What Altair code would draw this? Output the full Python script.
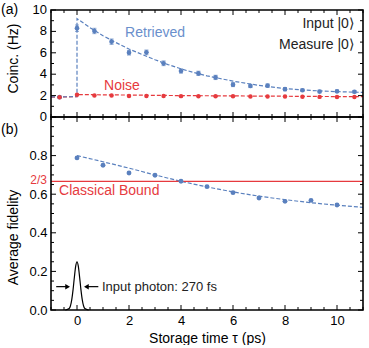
import altair as alt
import pandas as pd

# ---------------- data ----------------
ret_t = [-0.67, 0, 0.67, 1.33, 2, 2.67, 3.33, 4, 4.67, 5.33, 6, 6.67, 7.33, 8, 8.67, 9.33, 10, 10.67]
ret_v = [1.85, 8.3, 8.04, 7.04, 6.01, 6.04, 5.02, 4.3, 4.08, 3.7, 3.02, 2.9, 2.93, 2.6, 2.5, 2.38, 2.4, 2.36]
ret_e = [0.08, 0.3, 0.25, 0.25, 0.22, 0.22, 0.22, 0.2, 0.2, 0.2, 0.18, 0.15, 0.15, 0.15, 0.12, 0.12, 0.12, 0.12]

noise_t = [-0.67, 0, 0.67, 1.33, 2, 2.67, 3.33, 4, 4.67, 5.33, 6, 6.67, 7.33, 8, 8.67, 9.33, 10, 10.67]
noise_v = [1.85, 2.08, 2.0, 2.0, 1.97, 1.97, 1.97, 1.95, 1.93, 1.93, 1.93, 1.92, 1.92, 1.92, 1.9, 1.88, 1.87, 1.86]

retfit_t = [-1, 0, 0, 0.5, 1, 1.5, 2, 2.5, 3, 3.5, 4, 4.5, 5, 5.5, 6, 7, 8, 9, 10, 11]
retfit_v = [1.88, 1.9, 9.2, 8.35, 7.6, 6.95, 6.35, 5.85, 5.35, 4.9, 4.5, 4.15, 3.85, 3.6, 3.35, 2.95, 2.65, 2.48, 2.37, 2.3]

noisefit_t = [-1, 0, 0, 2, 4, 6, 8, 10, 11]
noisefit_v = [1.85, 1.9, 2.1, 2.05, 2.0, 1.97, 1.94, 1.91, 1.9]

fid_t = [0, 1, 2, 3, 4, 5, 6, 7, 8, 9, 10]
fid_v = [0.788, 0.75, 0.71, 0.698, 0.667, 0.639, 0.608, 0.58, 0.563, 0.568, 0.544]

fidfit_t = [0, 1, 2, 3, 4, 5, 6, 7, 8, 9, 10, 11]
fidfit_v = [0.80, 0.768, 0.735, 0.70, 0.667, 0.638, 0.612, 0.59, 0.572, 0.556, 0.543, 0.532]

pulse_t = [-0.45, -0.3, -0.2, -0.15, -0.1, -0.05, 0, 0.05, 0.1, 0.15, 0.2, 0.3, 0.45]
pulse_v = [0, 0.008, 0.055, 0.107, 0.171, 0.227, 0.25, 0.227, 0.171, 0.107, 0.055, 0.008, 0]

bound = 2 / 3

x_major = [0, 2, 4, 6, 8, 10]
x_minor = [-1, -0.5, 0.5, 1, 1.5, 2.5, 3, 3.5, 4.5, 5, 5.5, 6.5, 7, 7.5, 8.5, 9, 9.5, 10.5, 11]
ya_major = [0, 2, 4, 6, 8, 10]
ya_labels = ["0", "2", "4", "6", "8", "10"]
ya_minor = [1, 3, 5, 7, 9]
yb_major = [0, 0.2, 0.4, 0.6, 0.8, 1.0]
yb_minor = [0.05, 0.1, 0.15, 0.25, 0.3, 0.35, 0.45, 0.5, 0.55, 0.65, 0.7, 0.75, 0.85, 0.9, 0.95]

# ---------------- styling ----------------
FONT = "Liberation Sans"
BLUE = "#5a80be"
BLUE_T = "#6a8fcc"
RED = "#e63a3e"
W = 312
HA = 107
HB = 193
XS = alt.Scale(domain=[-1, 11], nice=False, zero=False)
YA = alt.Scale(domain=[0, 10], nice=False)
YB = alt.Scale(domain=[0, 1.0], nice=False)


def ticks(scale, H, axis_field, vals, length, hide_x):
    layers = []
    df = pd.DataFrame({"v": vals})
    if axis_field == "x":
        xenc = alt.X("v:Q", scale=scale, axis=None) if hide_x else alt.X("v:Q", scale=scale)
        layers.append(alt.Chart(df).mark_rule(color="black", strokeWidth=1).encode(
            x=xenc, y=alt.value(H), y2=alt.value(H - length)))
        layers.append(alt.Chart(df).mark_rule(color="black", strokeWidth=1).encode(
            x=xenc, y=alt.value(0), y2=alt.value(length)))
    else:
        layers.append(alt.Chart(df).mark_rule(color="black", strokeWidth=1).encode(
            y=alt.Y("v:Q", scale=scale), x=alt.value(0), x2=alt.value(length)))
        layers.append(alt.Chart(df).mark_rule(color="black", strokeWidth=1).encode(
            y=alt.Y("v:Q", scale=scale), x=alt.value(W), x2=alt.value(W - length)))
    return layers


def frame(H):
    return alt.Chart(pd.DataFrame({"a": [0]})).mark_rect(
        fill=None, stroke="black", strokeWidth=1.6, fillOpacity=0).encode(
        x=alt.value(0), x2=alt.value(W), y=alt.value(0), y2=alt.value(H))


# ---------------- panel (a) ----------------
ret_df = pd.DataFrame({"t": ret_t, "v": ret_v, "lo": [a - b for a, b in zip(ret_v, ret_e)],
                       "hi": [a + b for a, b in zip(ret_v, ret_e)]})
noise_df = pd.DataFrame({"t": noise_t, "v": noise_v})
retfit_df = pd.DataFrame({"t": retfit_t, "v": retfit_v, "i": range(len(retfit_t))})
noisefit_df = pd.DataFrame({"t": noisefit_t, "v": noisefit_v, "i": range(len(noisefit_t))})

ya_axis = alt.Axis(values=ya_major, grid=False, domain=False, ticks=False, labels=False,
                   title="Coinc. (Hz)", titleFont=FONT, titleFontSize=14, titleFontWeight="normal",
                   titleColor="black", titleX=-38, titleY=48, titleBaseline="middle", titleAngle=270,
                   titleAlign="center")

XA = alt.X("t:Q", scale=XS, axis=None)

a_layers = []
a_layers.append(alt.Chart(noisefit_df).mark_line(color=RED, strokeWidth=1.2, strokeDash=[4, 2]).encode(
    x=XA, y=alt.Y("v:Q", scale=YA, axis=ya_axis), order="i:Q"))
a_layers.append(alt.Chart(retfit_df).mark_line(color=BLUE, strokeWidth=1.2, strokeDash=[4, 2]).encode(
    x=XA, y=alt.Y("v:Q", scale=YA), order="i:Q"))
a_layers.append(alt.Chart(ret_df).mark_rule(color=BLUE, strokeWidth=1).encode(
    x=XA, y=alt.Y("lo:Q", scale=YA), y2="hi:Q"))
a_layers.append(alt.Chart(ret_df).mark_tick(color=BLUE, size=4, thickness=1, orient="horizontal").encode(
    x=XA, y=alt.Y("lo:Q", scale=YA)))
a_layers.append(alt.Chart(ret_df).mark_tick(color=BLUE, size=4, thickness=1, orient="horizontal").encode(
    x=XA, y=alt.Y("hi:Q", scale=YA)))
a_layers.append(alt.Chart(ret_df).mark_circle(color=BLUE, size=22, opacity=1).encode(
    x=XA, y=alt.Y("v:Q", scale=YA)))
a_layers.append(alt.Chart(noise_df).mark_circle(color=RED, size=20, opacity=1).encode(
    x=XA, y=alt.Y("v:Q", scale=YA)))


def text_a(xs, ys, ts, color, align="left", size=14):
    return alt.Chart(pd.DataFrame({"x": xs, "y": ys, "t": ts})).mark_text(
        align=align, baseline="middle", font=FONT, fontSize=size, color=color).encode(
        x=alt.X("x:Q", scale=XS, axis=None), y=alt.Y("y:Q", scale=YA), text="t:N")


a_layers.append(text_a([1.85], [7.85], ["Retrieved"], BLUE_T))
a_layers.append(text_a([1.04], [2.9], ["Noise"], RED))
a_layers.append(text_a([10.65, 10.65], [8.69, 6.76], ["Input |0\u27e9", "Measure |0\u27e9"], "#222222",
                       align="right"))
# y tick labels of panel (a)
a_layers.append(alt.Chart(pd.DataFrame({"y": ya_major, "t": ya_labels})).mark_text(
    align="right", baseline="middle", font=FONT, fontSize=13, color="black").encode(
    x=alt.value(-4), y=alt.Y("y:Q", scale=YA), text="t:N"))
a_layers.append(alt.Chart(pd.DataFrame({"t": ["(a)"]})).mark_text(
    align="left", baseline="middle", font=FONT, fontSize=14, color="black").encode(
    x=alt.value(-50), y=alt.value(0), text="t:N"))

a_layers += ticks(XS, HA, "x", x_major, 5, True)
a_layers += ticks(XS, HA, "x", x_minor, 3, True)
a_layers += ticks(YA, HA, "y", ya_major, 5, True)
a_layers += ticks(YA, HA, "y", ya_minor, 3, True)
a_layers.append(frame(HA))

top = alt.layer(*a_layers).properties(width=W, height=HA)

# ---------------- panel (b) ----------------
fid_df = pd.DataFrame({"t": fid_t, "v": fid_v})
fidfit_df = pd.DataFrame({"t": fidfit_t, "v": fidfit_v})
pulse_df = pd.DataFrame({"t": pulse_t, "v": pulse_v})

x_axis = alt.Axis(values=x_major, format="d", grid=False, domain=False, ticks=False,
                  labelOverlap=False, labelFlush=False,
                  labelFont=FONT, labelFontSize=13, labelPadding=4, labelColor="black",
                  title="Storage time \u03c4 (ps)", titleFont=FONT, titleFontSize=14,
                  titleFontWeight="normal", titleColor="black", titlePadding=4)
yb_axis = alt.Axis(values=[0, 0.2, 0.4, 0.6, 0.8], format=".1f", grid=False, domain=False, ticks=False,
                   labelOverlap=False, labelFlush=False,
                   labelFont=FONT, labelFontSize=13, labelPadding=4, labelColor="black",
                   title="Average fidelity", titleFont=FONT, titleFontSize=14, titleFontWeight="normal",
                   titleColor="black", titleX=-38, titleY=120, titleBaseline="middle", titleAngle=270,
                   titleAlign="center")

b_layers = []
b_layers.append(alt.Chart(fidfit_df).mark_line(color=BLUE, strokeWidth=1.2, strokeDash=[4, 2],
                                               interpolate="monotone").encode(
    x=alt.X("t:Q", scale=XS, axis=x_axis), y=alt.Y("v:Q", scale=YB, axis=yb_axis)))
b_layers.append(alt.Chart(pd.DataFrame({"v": [bound]})).mark_rule(color=RED, strokeWidth=1.2).encode(
    y=alt.Y("v:Q", scale=YB)))
b_layers.append(alt.Chart(fid_df).mark_circle(color=BLUE, size=24, opacity=1).encode(
    x=alt.X("t:Q", scale=XS), y=alt.Y("v:Q", scale=YB)))
b_layers.append(alt.Chart(pulse_df).mark_line(color="black", strokeWidth=1.2, interpolate="monotone").encode(
    x=alt.X("t:Q", scale=XS), y=alt.Y("v:Q", scale=YB)))

arrow_df = pd.DataFrame({"x": [-0.8, 0.82], "x2": [-0.34, 0.34], "y": [0.121, 0.121]})
b_layers.append(alt.Chart(arrow_df).mark_rule(color="black", strokeWidth=1.2).encode(
    x=alt.X("x:Q", scale=XS), x2="x2:Q", y=alt.Y("y:Q", scale=YB)))
head_df = pd.DataFrame({"x": [-0.36, 0.36], "y": [0.121, 0.121], "s": ["triangle-right", "triangle-left"]})
b_layers.append(alt.Chart(head_df).mark_point(filled=True, color="black", size=30, opacity=1).encode(
    x=alt.X("x:Q", scale=XS), y=alt.Y("y:Q", scale=YB), shape=alt.Shape("s:N", scale=None)))

b_layers.append(alt.Chart(pd.DataFrame({"x": [-0.69], "y": [0.614], "t": ["Classical Bound"]})).mark_text(
    align="left", baseline="middle", font=FONT, fontSize=14, color=RED).encode(
    x=alt.X("x:Q", scale=XS), y=alt.Y("y:Q", scale=YB), text="t:N"))
b_layers.append(alt.Chart(pd.DataFrame({"x": [0.96], "y": [0.121], "t": ["Input photon: 270 fs"]})).mark_text(
    align="left", baseline="middle", font=FONT, fontSize=13, color="#222222").encode(
    x=alt.X("x:Q", scale=XS), y=alt.Y("y:Q", scale=YB), text="t:N"))
b_layers.append(alt.Chart(pd.DataFrame({"y": [bound], "t": ["2/3"]})).mark_text(
    align="right", baseline="middle", font=FONT, fontSize=12, dy=-1, color=RED).encode(
    x=alt.value(-4), y=alt.Y("y:Q", scale=YB), text="t:N"))
b_layers.append(alt.Chart(pd.DataFrame({"t": ["(b)"]})).mark_text(
    align="left", baseline="middle", font=FONT, fontSize=14, color="black").encode(
    x=alt.value(-50), y=alt.value(13), text="t:N"))

b_layers += ticks(XS, HB, "x", x_major, 5, False)
b_layers += ticks(XS, HB, "x", x_minor, 3, False)
b_layers += ticks(YB, HB, "y", yb_major, 5, False)
b_layers += ticks(YB, HB, "y", yb_minor, 3, False)
b_layers.append(frame(HB))

bottom = alt.layer(*b_layers).properties(width=W, height=HB)

chart = alt.vconcat(top, bottom, spacing=0, bounds="flush").properties(
    padding={"left": 1, "top": 3, "right": 0, "bottom": 0}, background="white"
).configure_view(stroke=None).configure_axis(labelOverlap=False)

chart.save("out.html", embed_options={"renderer": "svg", "actions": False})
